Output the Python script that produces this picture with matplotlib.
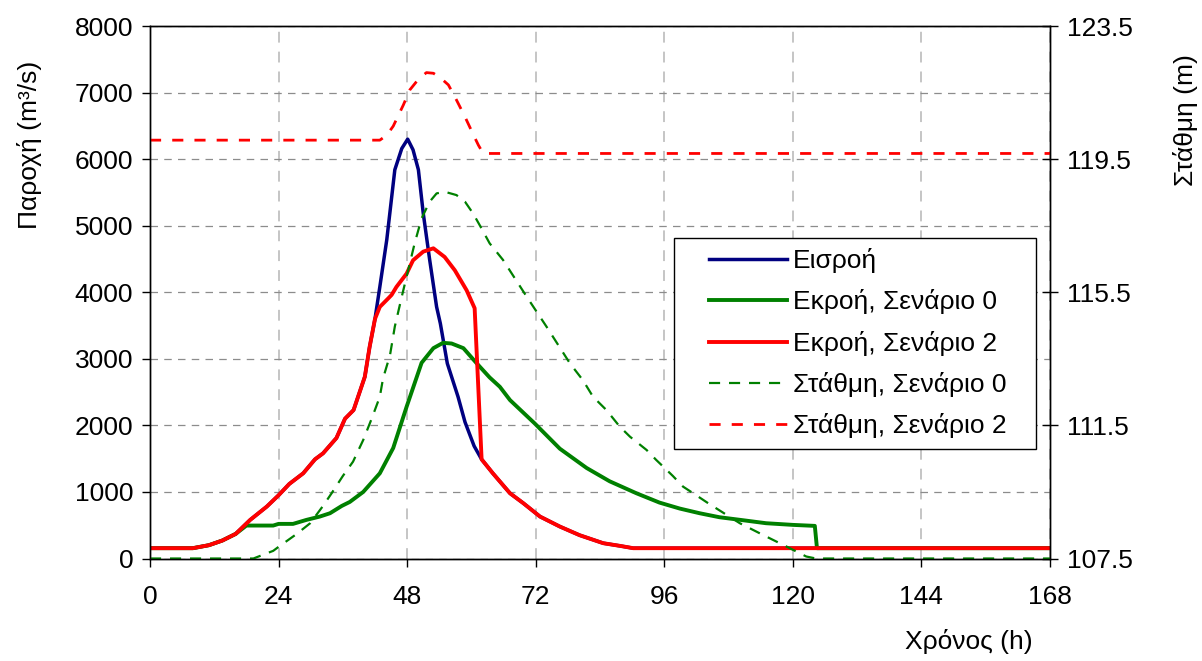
import matplotlib
matplotlib.use("Agg")
import matplotlib.pyplot as plt
from matplotlib.legend_handler import HandlerLine2D

plt.rcParams["font.family"] = ["Liberation Sans", "DejaVu Sans"]

# Hydrograph data (time in hours, discharge in m3/s, water level in m)
inflow_h = [0, 8, 11, 13.5, 16, 18.7, 21.8, 24, 26, 28.6, 30.8, 32.3, 34.8, 36.4, 38,
            40.1, 41, 42, 42.9, 44.2, 45.7, 47, 48.1, 49.1, 50.1, 51, 52.2, 53.5, 54.2,
            55.5, 57.5, 58.8, 60.5, 61.9, 64, 67.2, 69.7, 72.8, 76.5, 80.2, 84.6, 87.7,
            90.2, 168]
inflow_q = [155, 155, 200, 270, 370, 580, 780, 950, 1120, 1280, 1490, 1580, 1810, 2100, 2230,
            2730, 3180, 3600, 4080, 4790, 5840, 6160, 6300, 6140, 5840, 5190, 4490, 3780, 3530,
            2930, 2430, 2050, 1690, 1490, 1280, 980, 830, 630, 480, 350, 230, 190,
            155, 155]

out0_h = [0, 8, 11, 13.5, 16, 18, 23, 24, 26.7, 29.2, 31.7, 33.6, 35.8, 37.3, 39.8, 42.9,
          45.4, 47.9, 50.7, 52.9, 54.7, 56.3, 58.5, 60.9, 63.4, 65.3, 67.2, 71.8, 76.5,
          81.5, 85.8, 90.8, 95.1, 98.9, 102.6, 106.3, 110.7, 115, 120, 124.1, 124.5, 168]
out0_q = [155, 155, 200, 270, 370, 495, 495, 520, 520, 580, 630, 680, 790, 850, 1000, 1280,
          1660, 2280, 2940, 3160, 3240, 3230, 3160, 2940, 2720, 2580, 2380, 2030, 1650,
          1360, 1160, 980, 840, 750, 680, 620, 575, 530, 505, 490, 155, 155]

out2_h = [0, 8, 11, 13.5, 16, 18.7, 21.8, 24, 26, 28.6, 30.8, 32.3, 34.8, 36.4, 38, 40.1,
          41, 42, 42.9, 44.5, 45.1, 46, 47.9, 49.1, 51, 52.9, 55, 56.9, 59.1, 60.6, 61.9,
          64, 67.2, 69.7, 72.8, 76.5, 80.2, 84.6, 87.7, 90.2, 168]
out2_q = [155, 155, 200, 270, 370, 580, 780, 950, 1120, 1280, 1490, 1580, 1810, 2100, 2230, 2730,
          3180, 3600, 3780, 3910, 3960, 4080, 4280, 4480, 4610, 4660, 4530, 4330, 4030, 3760, 1490,
          1280, 980, 830, 630, 480, 350, 230, 190, 155, 155]

lvl0_h = [0, 19.3, 23, 24, 27.4, 29.9, 32.3, 33.9, 36, 37.9, 39.8, 41.4, 42.9, 43.5, 44.8,
          45.7, 47, 48.5, 49.4, 50.7, 52.2, 53.5, 55, 57.2, 58.8, 60.3, 61.6, 63.4, 65.9,
          70.3, 74, 78.4, 80.8, 82.7, 85.2, 87.7, 89.6, 92.7, 94.5, 95.8, 97.6, 99.5,
          101.4, 104.2, 110.1, 114.4, 118.8, 122.5, 124.3, 168]
lvl0_m = [107.5, 107.5, 107.73, 107.85, 108.24, 108.56, 109.08, 109.46, 109.98, 110.41,
          111.06, 111.71, 112.36, 112.91, 113.61, 114.47, 115.37, 116.37, 116.97, 117.72,
          118.22, 118.47, 118.52, 118.42, 118.22, 117.87, 117.5, 116.97, 116.47, 115.37,
          114.47, 113.36, 112.86, 112.36, 111.96, 111.46, 111.16, 110.76, 110.46, 110.26,
          109.98, 109.66, 109.46, 109.16, 108.56, 108.21, 107.86, 107.56, 107.5, 107.5]

lvl2_h = [0, 42.9, 44.2, 45.4, 47.3, 48.5, 50.1, 51.6, 52.9, 54.1, 55.7, 57.2, 58.8, 60.4,
          61.3, 62.2, 168]
lvl2_m = [120.07, 120.07, 120.22, 120.49, 121.13, 121.58, 121.90, 122.10, 122.08, 121.96,
          121.73, 121.28, 120.77, 120.22, 119.92, 119.67, 119.67]

labels = ["Εισροή", "Εκροή, Σενάριο 0", "Εκροή, Σενάριο 2",
          "Στάθμη, Σενάριο 0", "Στάθμη, Σενάριο 2"]
x_ticks = list(range(0, 169, 24))
q_ticks = list(range(0, 8001, 1000))
lvl_ticks = [107.5, 111.5, 115.5, 119.5, 123.5]

FS = 19
W, H = 1202, 661
fig = plt.figure(figsize=(W / 100, H / 100), dpi=100)
L, R, T, B = 150, 1050, 26, 558.5
ax = fig.add_axes([L / W, 1 - B / H, (R - L) / W, (B - T) / H])
ax2 = ax.twinx()

# discharge lines (left axis)
h_in, = ax.plot(inflow_h, inflow_q, color="#000080", lw=2.5, solid_joinstyle="round")
h_o0, = ax.plot(out0_h, out0_q, color="#008000", lw=2.8, solid_joinstyle="round")
h_o2, = ax.plot(out2_h, out2_q, color="#ff0000", lw=2.8, solid_joinstyle="round")

# water level lines (right axis)
h_l0, = ax2.plot(lvl0_h, lvl0_m, color="#008000", lw=1.6, dashes=(5, 4))
h_l2, = ax2.plot(lvl2_h, lvl2_m, color="#ff0000", lw=2.0, dashes=(4, 4))

ax.set_xlim(0, 168)
ax.set_ylim(0, 8000)
ax2.set_ylim(107.5, 123.5)
ax.set_xticks(x_ticks)
ax.set_yticks(q_ticks)
ax2.set_yticks(lvl_ticks)
ax2.set_yticklabels([f"{v:.1f}" for v in lvl_ticks])

for a in (ax, ax2):
    for s in a.spines.values():
        s.set_color("black")
        s.set_linewidth(1.0)

ax.tick_params(axis="both", direction="out", length=6, width=1, labelsize=FS, pad=6)
ax.tick_params(axis="x", pad=13)
ax2.tick_params(axis="y", direction="inout", length=12, width=1, labelsize=FS, pad=6)

ax.set_axisbelow(True)
ax.yaxis.grid(True, color="#8c8c8c", lw=0.9, dashes=(6, 5))
ax.xaxis.grid(True, color="#c0c0c0", lw=1.3, dashes=(6, 5))

ax.set_xlabel("Χρόνος (h)", fontsize=FS, va="center", ha="center")
ax.xaxis.set_label_coords((969 - L) / (R - L), (B - 641) / (B - T))
ax.set_ylabel("Παροχή (m³/s)", fontsize=FS, va="center", ha="center")
ax.yaxis.set_label_coords((30 - L) / (R - L), (B - 145) / (B - T))
ax2.set_ylabel("Στάθμη (m)", fontsize=FS, va="center", ha="center")
ax2.yaxis.set_label_coords((1185 - L) / (R - L), (B - 120) / (B - T))

# legend handles are inset from the frame's left edge
inset = HandlerLine2D(xpad=0.95)
leg = ax2.legend([h_in, h_o0, h_o2, h_l0, h_l2], labels,
                 loc="upper left", mode="expand",
                 bbox_to_anchor=(674 / W, 1 - 452 / H, (1036 - 674) / W, (452 - 238) / H),
                 bbox_transform=fig.transFigure,
                 handler_map={h: inset for h in (h_in, h_o0, h_o2, h_l0, h_l2)},
                 fontsize=FS, frameon=True, fancybox=False, shadow=False,
                 handlelength=3.9, handletextpad=0.23, labelspacing=0.62,
                 borderpad=0.38, borderaxespad=0)
leg.get_frame().set_edgecolor("black")
leg.get_frame().set_linewidth(1.0)
leg.get_frame().set_facecolor("white")
leg.get_frame().set_alpha(1)

fig.savefig("out.png", dpi=100)
